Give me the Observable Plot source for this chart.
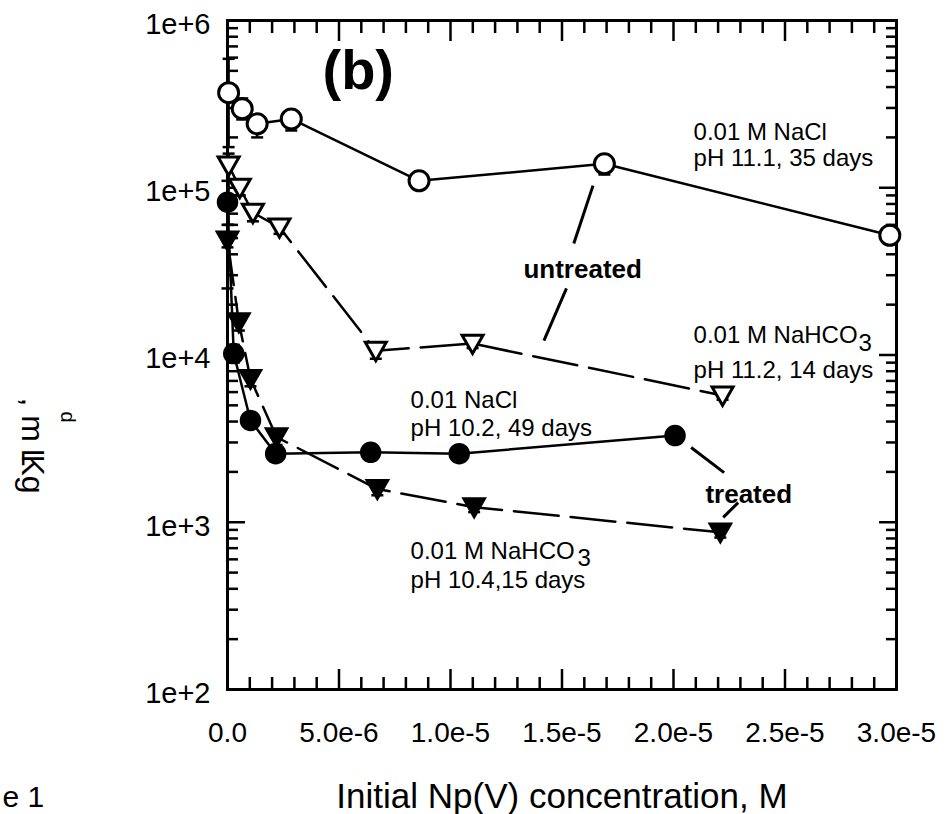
<!DOCTYPE html>
<html><head><meta charset="utf-8">
<script src="https://cdn.jsdelivr.net/npm/d3@7"></script>
<script src="https://cdn.jsdelivr.net/npm/@observablehq/plot@0.6"></script>
<style>
html,body{margin:0;padding:0;background:#fff;}
#chart{width:948px;height:814px;}
</style></head><body><div id="chart"></div>
<script>
// ---- data (x: initial Np(V) concentration, M ; y: Kd, mL/g) ----
// untreated, 0.01 M NaCl pH 11.1 (open circles)
const ocX  = [0.05e-6, 0.66e-6, 1.33e-6, 2.86e-6, 8.59e-6, 16.9e-6, 29.7e-6];
const ocY  = [3.7e5, 2.97e5, 2.41e5, 2.58e5, 1.10e5, 1.39e5, 5.2e4];
const ocLo = [1.75e5, 2.56e5, 2.0e5, 2.2e5, 1.05e5, 1.2e5, 5.0e4];
const ocHi = [5.9e5, 3.42e5, 2.6e5, 2.9e5, 1.15e5, 1.5e5, 5.4e4];
// untreated, 0.01 M NaHCO3 pH 11.2 (open triangles)
const otX  = [0.05e-6, 0.55e-6, 1.14e-6, 2.33e-6, 6.65e-6, 10.99e-6, 22.2e-6];
const otY  = [1.36e5, 1.0e5, 7.1e4, 5.8e4, 1.06e4, 1.17e4, 5.73e3];
const otLo = [6.0e4, 9.0e4, 6.3e4, 5.3e4, 9.5e3, 1.1e4, 5.4e3];
const otHi = [1.6e5, 1.1e5, 7.6e4, 6.2e4, 1.1e4, 1.25e4, 6.0e3];
// treated, 0.01 NaCl pH 10.2 (filled circles)
const fcX  = [0.0, 0.28e-6, 1.03e-6, 2.16e-6, 6.42e-6, 10.39e-6, 20.07e-6];
const fcY  = [8.2e4, 1.02e4, 4.06e3, 2.57e3, 2.62e3, 2.57e3, 3.3e3];
const fcLo = [4.4e4, 9.0e3, 3.7e3, 2.4e3, 2.5e3, 2.45e3, 3.1e3];
const fcHi = [1.1e5, 1.15e4, 4.4e3, 2.8e3, 2.75e3, 2.7e3, 3.5e3];
// treated, 0.01 M NaHCO3 pH 10.4 (filled triangles)
const ftX  = [0.0, 0.51e-6, 1.03e-6, 2.2e-6, 6.72e-6, 11.06e-6, 22.1e-6];
const ftY  = [4.84e4, 1.57e4, 7.2e3, 3.23e3, 1.58e3, 1.23e3, 8.7e2];
const ftLo = [2.5e4, 1.4e4, 6.5e3, 2.9e3, 1.45e3, 1.15e3, 8.1e2];
const ftHi = [6.0e4, 1.75e4, 8.0e3, 3.5e3, 1.7e3, 1.32e3, 9.4e2];

// ticks
const xMajorTicks = [0, 5e-6, 1e-5, 1.5e-5, 2e-5, 2.5e-5, 3e-5];
const xTickLabels = ["0.0", "5.0e-6", "1.0e-5", "1.5e-5", "2.0e-5", "2.5e-5", "3.0e-5"];
const xMinorTicks = [1e-6,2e-6,3e-6,4e-6,6e-6,7e-6,8e-6,9e-6,11e-6,12e-6,13e-6,14e-6,16e-6,17e-6,18e-6,19e-6,21e-6,22e-6,23e-6,24e-6,26e-6,27e-6,28e-6,29e-6];
const yMajorTicks = [1e2, 1e3, 1e4, 1e5, 1e6];
const yTickLabels = ["1e+2", "1e+3", "1e+4", "1e+5", "1e+6"];
const yMinorTicks = [2e2,3e2,4e2,5e2,6e2,7e2,8e2,9e2,2e3,3e3,4e3,5e3,6e3,7e3,8e3,9e3,2e4,3e4,4e4,5e4,6e4,7e4,8e4,9e4,2e5,3e5,4e5,5e5,6e5,7e5,8e5,9e5];

// annotations (data coordinates)
const annText = ["0.01 M NaCl", "pH 11.1, 35 days", "0.01 M NaHCO", "pH 11.2, 14 days",
                 "0.01 NaCl", "pH 10.2, 49 days", "0.01 M NaHCO", "pH 10.4,15 days"];
const annX = [20.9e-6, 20.9e-6, 20.9e-6, 20.9e-6, 8.21e-6, 8.21e-6, 8.21e-6, 8.21e-6];
const annY = [1.943e5, 1.34e5, 1.172e4, 7.24e3, 4.79e3, 3.30e3, 607, 407];
const subText = ["3", "3"];
const subX = [28.3e-6, 15.7e-6];
const subY = [1.05e4, 551];
const boldText = ["untreated", "treated"];
const boldX = [13.27e-6, 21.43e-6];
const boldY = [2.90e4, 1.31e3];
const panelText = ["(b)"];
const panelX = [4.26e-6];
const panelY = [3.92e5];
// pointer lines
const ptrX1 = [16.39e-6, 15.2e-6, 20.79e-6, 22.9e-6];
const ptrY1 = [1.03e5, 2.5e4, 2.8e3, 1.31e3];
const ptrX2 = [15.53e-6, 14.19e-6, 22.27e-6, 22.23e-6];
const ptrY2 = [4.64e4, 1.22e4, 1.98e3, 1.07e3];

const rows = (xs, ys, lo, hi) => xs.map((x, i) => ({x, y: ys[i], lo: lo[i], hi: hi[i]}));
const oc = rows(ocX, ocY, ocLo, ocHi);
const ot = rows(otX, otY, otLo, otHi);
const fc = rows(fcX, fcY, fcLo, fcHi);
const ft = rows(ftX, ftY, ftLo, ftHi);
const ann = annText.map((t, i) => ({t, x: annX[i], y: annY[i]}));
const sub = subText.map((t, i) => ({t, x: subX[i], y: subY[i]}));
const bold = boldText.map((t, i) => ({t, x: boldX[i], y: boldY[i]}));
const panel = panelText.map((t, i) => ({t, x: panelX[i], y: panelY[i]}));
const ptr = ptrX1.map((x, i) => ({x1: x, y1: ptrY1[i], x2: ptrX2[i], y2: ptrY2[i]}));

// custom symbols
const triDown = {draw(ctx, size) {
  const r = Math.sqrt(size / Math.PI);
  ctx.moveTo(-r, -0.8 * r); ctx.lineTo(r, -0.8 * r); ctx.lineTo(0, 0.95 * r); ctx.closePath();
}};
const hbar = {draw(ctx, size) {
  const r = Math.sqrt(size / Math.PI);
  ctx.moveTo(-r, 0); ctx.lineTo(r, 0);
}};

const errMarks = (d) => [
  Plot.ruleX(d, {x: "x", y1: "lo", y2: "hi", stroke: "black", strokeWidth: 2.5}),
  Plot.dot(d, {x: "x", y: "lo", symbol: hbar, r: 6, stroke: "black", strokeWidth: 2.5}),
  Plot.dot(d, {x: "x", y: "hi", symbol: hbar, r: 6, stroke: "black", strokeWidth: 2.5})
];

const FONT = "'Liberation Sans', Arial, Helvetica, sans-serif";
const xi = xMajorTicks.map((v, i) => [v, xTickLabels[i]]);
const yi = yMajorTicks.map((v, i) => [v, yTickLabels[i]]);
const xFmt = (v) => (xi.find(d => Math.abs(d[0] - v) < 1e-9) || [0, ""])[1];
const yFmt = (v) => (yi.find(d => Math.abs(d[0] / v - 1) < 1e-6) || [0, ""])[1];
const blank = () => "";

const chart = Plot.plot({
  width: 948, height: 814,
  marginLeft: 227, marginRight: 52, marginTop: 20, marginBottom: 125,
  style: {fontFamily: FONT, background: "white", color: "black", overflow: "visible"},
  x: {domain: [0, 3e-5], label: null},
  y: {type: "log", domain: [1e2, 1e6], label: null},
  marks: [
    // inward ticks
    Plot.axisX({ticks: xMinorTicks, anchor: "bottom", tickSize: -12, tickFormat: blank, label: null, strokeWidth: 2.5}),
    Plot.axisX({ticks: xMajorTicks, anchor: "bottom", tickSize: -20, tickFormat: blank, label: null, strokeWidth: 2.5}),
    Plot.axisX({ticks: xMinorTicks, anchor: "top", tickSize: -12, tickFormat: blank, label: null, strokeWidth: 2.5}),
    Plot.axisX({ticks: xMajorTicks, anchor: "top", tickSize: -20, tickFormat: blank, label: null, strokeWidth: 2.5}),
    Plot.axisY({ticks: yMinorTicks, anchor: "left", tickSize: -11, tickFormat: blank, label: null, strokeWidth: 2.5}),
    Plot.axisY({ticks: yMajorTicks, anchor: "left", tickSize: -18, tickFormat: blank, label: null, strokeWidth: 2.5}),
    Plot.axisY({ticks: yMinorTicks, anchor: "right", tickSize: -11, tickFormat: blank, label: null, strokeWidth: 2.5}),
    Plot.axisY({ticks: yMajorTicks, anchor: "right", tickSize: -18, tickFormat: blank, label: null, strokeWidth: 2.5}),
    // tick labels
    Plot.axisX({ticks: xMajorTicks, anchor: "bottom", tickSize: 0, tickPadding: 33, tickFormat: xFmt, label: null, fontSize: 28}),
    Plot.axisY({ticks: yMajorTicks, anchor: "left", tickSize: 0, tickPadding: 17, tickFormat: yFmt, label: null, fontSize: 29, dy: 4}),
    Plot.frame({stroke: "black", strokeWidth: 3}),
    // series lines
    Plot.line(oc, {x: "x", y: "y", stroke: "black", strokeWidth: 2.5}),
    Plot.line(ot, {x: "x", y: "y", stroke: "black", strokeWidth: 2.5, strokeDasharray: "45,12"}),
    Plot.line(fc, {x: "x", y: "y", stroke: "black", strokeWidth: 2.5}),
    Plot.line(ft, {x: "x", y: "y", stroke: "black", strokeWidth: 2.5, strokeDasharray: "45,12"}),
    // error bars
    ...errMarks(oc), ...errMarks(ot), ...errMarks(fc), ...errMarks(ft),
    // markers
    Plot.dot(ft, {x: "x", y: "y", symbol: triDown, r: 11.5, fill: "black", stroke: "black", strokeWidth: 1.5}),
    Plot.dot(fc, {x: "x", y: "y", r: 10, fill: "black", stroke: "black", strokeWidth: 1.5}),
    Plot.dot(ot, {x: "x", y: "y", symbol: triDown, r: 10.5, fill: "white", stroke: "black", strokeWidth: 3}),
    Plot.dot(oc, {x: "x", y: "y", r: 10, fill: "white", stroke: "black", strokeWidth: 3}),
    // pointers
    Plot.link(ptr, {x1: "x1", y1: "y1", x2: "x2", y2: "y2", stroke: "black", strokeWidth: 3}),
    // annotations
    Plot.text(ann, {x: "x", y: "y", text: "t", textAnchor: "start", lineAnchor: "bottom", fontSize: 24, fill: "black"}),
    Plot.text(sub, {x: "x", y: "y", text: "t", textAnchor: "start", lineAnchor: "bottom", fontSize: 24, fill: "black"}),
    Plot.text(bold, {x: "x", y: "y", text: "t", textAnchor: "start", lineAnchor: "bottom", fontSize: 26, fontWeight: "bold", fill: "black"}),
    Plot.text(panel, {x: "x", y: "y", text: "t", textAnchor: "start", lineAnchor: "bottom", fontSize: 56, fontWeight: "bold", fill: "black"}),
    // axis titles
    Plot.text(["Initial Np(V) concentration, M"], {frameAnchor: "bottom", text: d => d, lineAnchor: "bottom", dy: 118, fontSize: 35, fill: "black"}),
    Plot.text([", m"], {frameAnchor: "top-left", text: d => d, rotate: 90, textAnchor: "start", lineAnchor: "bottom", dx: -206, dy: 377, fontSize: 32, fill: "black"}),
    Plot.text(["L"], {frameAnchor: "top-left", text: d => d, rotate: 90, textAnchor: "start", lineAnchor: "bottom", dx: -206, dy: 428, fontSize: 32, fill: "black"}),
    Plot.text(["Kg"], {frameAnchor: "top-left", text: d => d, rotate: 90, textAnchor: "start", lineAnchor: "bottom", dx: -206, dy: 434, fontSize: 32, fill: "black"}),
    Plot.text(["d"], {frameAnchor: "top-left", text: d => d, rotate: 90, textAnchor: "start", lineAnchor: "bottom", dx: -167, dy: 391, fontSize: 20, fill: "black"}),
    Plot.text(["e 1"], {frameAnchor: "bottom-left", text: d => d, textAnchor: "start", lineAnchor: "bottom", dx: -225, dy: 117, fontSize: 30, fill: "black"})
  ]
});
document.getElementById("chart").appendChild(chart);
</script></body></html>
